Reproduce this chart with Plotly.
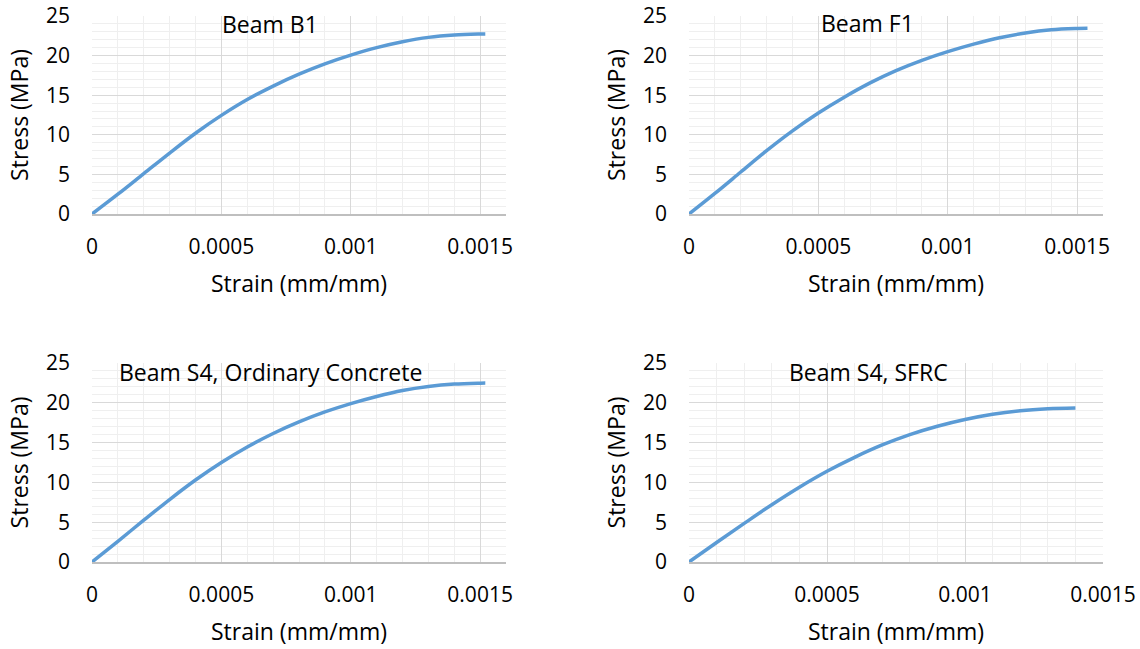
import plotly.graph_objects as go

# ---------------- data ----------------
b1_strain = [0, 0.0001, 0.0002, 0.0003, 0.0004, 0.0005, 0.0006, 0.0007, 0.0008,
             0.0009, 0.0010, 0.0011, 0.0012, 0.0013, 0.0014, 0.0015, 0.00152]
b1_stress = [0, 2.5, 5.1, 7.7, 10.2, 12.45, 14.45, 16.15, 17.65,
             18.95, 20.05, 21.0, 21.75, 22.3, 22.6, 22.72, 22.73]

f1_strain = [0, 0.0001, 0.0002, 0.0003, 0.0004, 0.0005, 0.0006, 0.0007, 0.0008,
             0.0009, 0.0010, 0.0011, 0.0012, 0.0013, 0.0014, 0.0015, 0.00154]
f1_stress = [0, 2.6, 5.3, 8.0, 10.5, 12.75, 14.75, 16.55, 18.1,
             19.4, 20.5, 21.45, 22.25, 22.85, 23.25, 23.42, 23.45]

s4oc_strain = [0, 0.0001, 0.0002, 0.0003, 0.0004, 0.0005, 0.0006, 0.0007, 0.0008,
               0.0009, 0.0010, 0.0011, 0.0012, 0.0013, 0.0014, 0.0015, 0.00152]
s4oc_stress = [0, 2.6, 5.25, 7.85, 10.3, 12.5, 14.45, 16.15, 17.6,
               18.85, 19.9, 20.8, 21.55, 22.05, 22.35, 22.47, 22.48]

sfrc_strain = [0, 0.0001, 0.0002, 0.0003, 0.0004, 0.0005, 0.0006, 0.0007, 0.0008,
               0.0009, 0.0010, 0.0011, 0.0012, 0.0013, 0.0014]
sfrc_stress = [0, 2.45, 4.85, 7.2, 9.4, 11.4, 13.15, 14.7, 16.0,
               17.05, 17.9, 18.55, 19.0, 19.25, 19.35]

titles = ["Beam B1", "Beam F1", "Beam S4, Ordinary Concrete", "Beam S4, SFRC"]
x_tickvals = [0, 0.0005, 0.001, 0.0015]
x_ticktext = ["0", "0.0005", "0.001", "0.0015"]
y_tickvals = [0, 5, 10, 15, 20, 25]
x_title = "Strain (mm/mm)"
y_title = "Stress (MPa)"
x_max = [0.0016, 0.0016, 0.0016, 0.0015]

series = [(b1_strain, b1_stress), (f1_strain, f1_stress),
          (s4oc_strain, s4oc_stress), (sfrc_strain, sfrc_stress)]

# ---------------- layout geometry ----------------
W, H = 1140, 649
FONT = "Open Sans, Lato, sans-serif"
LINE = "#5B9BD5"
MAJ = "#D9D9D9"
MIN = "#EFEFEF"

# plot areas in pixels: (left, right, top, bottom)
boxes = [(92, 506, 16, 214), (689, 1103, 16, 214),
         (92, 506, 363, 562), (689, 1103, 363, 562)]
title_pos = [(270, 24), (867, 23), (270, 372), (868, 372)]

fig = go.Figure()
layout = dict(
    width=W, height=H,
    margin=dict(l=0, r=0, t=0, b=0, autoexpand=False),
    paper_bgcolor="white", plot_bgcolor="white",
    showlegend=False,
    font=dict(family=FONT, color="#000000", size=21),
    annotations=[],
)

for i, ((xs, ys), box) in enumerate(zip(series, boxes)):
    n = "" if i == 0 else str(i + 1)
    fig.add_trace(go.Scatter(
        x=xs, y=ys, mode="lines",
        line=dict(color=LINE, width=3.5, shape="spline", smoothing=1.0),
        xaxis="x" + n, yaxis="y" + n, hoverinfo="skip",
    ))
    l, r, t, b = box
    layout["xaxis" + n] = dict(
        domain=[l / W, r / W], anchor="y" + n, automargin=False,
        range=[0, x_max[i]], tickvals=x_tickvals, ticktext=x_ticktext,
        showgrid=True, gridcolor=MAJ, gridwidth=1,
        minor=dict(dtick=0.0001, showgrid=True, gridcolor=MIN, gridwidth=1),
        showline=True, linecolor="#BFBFBF", linewidth=1.5,
        zeroline=False, ticks="", ticklabelstandoff=13,
        tickfont=dict(family=FONT, size=21, color="#000000"),
        title=dict(text=x_title, font=dict(family=FONT, size=23, color="#000000"),
                   standoff=17),
        fixedrange=True,
    )
    layout["yaxis" + n] = dict(
        domain=[1 - b / H, 1 - t / H], anchor="x" + n, automargin=False,
        range=[0, 25], tickvals=y_tickvals,
        showgrid=True, gridcolor=MAJ, gridwidth=1,
        minor=dict(dtick=1, showgrid=True, gridcolor=MIN, gridwidth=1),
        showline=False, zeroline=False, ticks="", ticklabelstandoff=21,
        tickfont=dict(family=FONT, size=21, color="#000000"),
        title=dict(text=y_title, font=dict(family=FONT, size=23, color="#000000"),
                   standoff=10),
        fixedrange=True,
    )
    tx, ty = title_pos[i]
    layout["annotations"].append(dict(
        text=titles[i], x=tx / W, y=1 - ty / H, xref="paper", yref="paper",
        xanchor="center", yanchor="middle", showarrow=False,
        font=dict(family=FONT, size=23, color="#000000"),
    ))

fig.update_layout(**layout)
fig.write_html(
    "out.html",
    config={"displayModeBar": False},
    post_script="document.body.style.margin='0px';document.body.style.overflow='hidden';",
)
